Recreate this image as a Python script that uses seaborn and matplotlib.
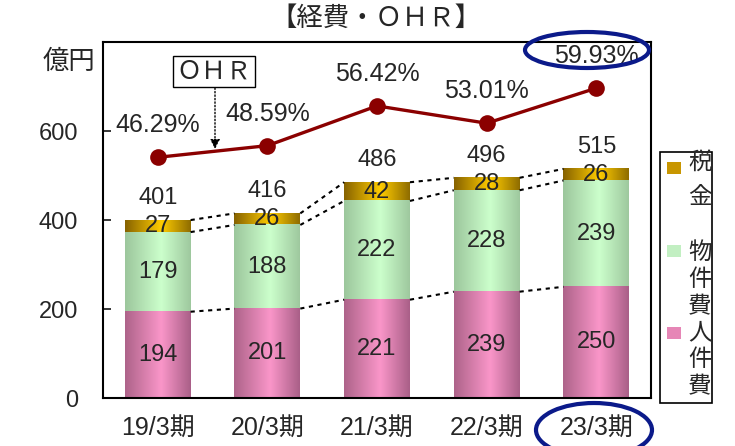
import numpy as np
import matplotlib
matplotlib.use("Agg")
import matplotlib.pyplot as plt
from matplotlib.colors import LinearSegmentedColormap
from matplotlib.patches import Ellipse, Rectangle
import seaborn as sns

# data
categories = ["19/3期", "20/3期", "21/3期", "22/3期", "23/3期"]
personnel = [194, 201, 221, 239, 250]   # 人件費
goods = [179, 188, 222, 228, 239]       # 物件費
tax = [27, 26, 42, 28, 26]              # 税金
totals = [401, 416, 486, 496, 515]
ohr = [46.29, 48.59, 56.42, 53.01, 59.93]

sns.set_style("white")
plt.rcParams["font.family"] = ["Liberation Sans", "Noto Sans CJK JP"]

# stacked tops
lvl1 = np.array(personnel)
lvl2 = lvl1 + np.array(goods)
lvl3 = lvl2 + np.array(tax)

fig = plt.figure(figsize=(7.35, 4.46), dpi=100)
ax = fig.add_axes([0.140, 0.1076, 0.746, 0.798])

# bars drawn largest first (seaborn stacking trick)
sns.barplot(x=categories, y=lvl3, color="#e0b000", width=0.6, errorbar=None, ax=ax)
sns.barplot(x=categories, y=lvl2, color="#c0eec0", width=0.6, errorbar=None, ax=ax)
sns.barplot(x=categories, y=lvl1, color="#e888b8", width=0.6, errorbar=None, ax=ax)

n = len(categories)
tax_bars = ax.patches[:n]
goods_bars = ax.patches[n:2 * n]
pers_bars = ax.patches[2 * n:3 * n]

# horizontal shading like the original
cmaps = [
    LinearSegmentedColormap.from_list("t", [(0, "#866200"), (0.55, "#ffcc00"), (1, "#8e6c00")]),
    LinearSegmentedColormap.from_list("g", [(0, "#9cc69c"), (0.55, "#ccffcc"), (1, "#9ec89e")]),
    LinearSegmentedColormap.from_list("p", [(0, "#ad6389"), (0.55, "#fa96c9"), (1, "#a95f87")]),
]
grad = np.linspace(0, 1, 256).reshape(1, -1)
for k, bars in enumerate([tax_bars, goods_bars, pers_bars]):
    for p in bars:
        x0, w, h = p.get_x(), p.get_width(), p.get_height()
        ax.imshow(grad, cmap=cmaps[k], extent=(x0, x0 + w, 0, h), aspect="auto",
                  zorder=1 + k * 0.1, interpolation="bicubic")
        p.set_visible(False)

# dotted connectors between bars
for i in range(n - 1):
    xr = pers_bars[i].get_x() + pers_bars[i].get_width()
    xl = pers_bars[i + 1].get_x()
    for lv in (lvl1, lvl2, lvl3):
        ax.plot([xr, xl], [lv[i], lv[i + 1]], color="black", lw=1.5,
                ls=(0, (2, 2.2)), zorder=3)

# segment labels
fs = 17
for i in range(n):
    ax.text(i, lvl1[i] / 2, str(personnel[i]), ha="center", va="center", fontsize=fs, zorder=4)
    ax.text(i, lvl1[i] + goods[i] / 2, str(goods[i]), ha="center", va="center", fontsize=fs, zorder=4)
    ax.text(i, lvl2[i] + tax[i] / 2, str(tax[i]), ha="center", va="center", fontsize=fs, zorder=4)
    ax.annotate(str(totals[i]), (i, lvl3[i]), xytext=(0, 16), textcoords="offset points",
                ha="center", va="center", fontsize=fs, zorder=4)

ax.set_xlim(-0.5, n - 0.5)
ax.set_ylim(0, 800)
ax.set_yticks([0, 200, 400, 600])
ax.set_xticks(range(n))
ax.set_xticklabels(categories)
ax.set_xticks(np.arange(0.5, n - 1, 1), minor=True)
ax.tick_params(axis="y", direction="in", length=6, width=1.3, pad=18, labelsize=fs)
ax.tick_params(axis="x", which="major", length=0, pad=13, labelsize=18)
ax.tick_params(axis="x", which="minor", direction="in", length=8, width=1.3)
ax.set_xlabel("")
ax.set_ylabel("")
for s in ax.spines.values():
    s.set_linewidth(1.5)
    s.set_color("black")

# OHR line on hidden secondary axis
ax2 = ax.twinx()
sns.lineplot(x=np.arange(n), y=ohr, ax=ax2, color="#8b0000", lw=2.4, marker="o",
             markersize=12, markeredgewidth=0)
for i, v in enumerate(ohr):
    ax2.annotate(f"{v:.2f}%", (i, v), xytext=(0, 23), textcoords="offset points",
                 ha="center", va="center", fontsize=18)
ax2.set_ylim(-1.15, 69.0)
ax2.set_xlim(-0.5, n - 0.5)
ax2.axis("off")

# title and unit
fig.text(0.512, 0.958, "【経費・ＯＨＲ】", ha="center", va="center", fontsize=19)
fig.text(0.094, 0.861, "億円", ha="center", va="center", fontsize=19)

# OHR tag with dotted arrow
fig.text(0.291, 0.840, "ＯＨＲ", ha="center", va="center", fontsize=18,
         bbox=dict(boxstyle="square,pad=0.15", fc="white", ec="black", lw=1))
ax.annotate("", xy=(215 / 735, 1 - 149 / 446), xytext=(215 / 735, 1 - 88 / 446),
            xycoords="figure fraction", textcoords="figure fraction",
            arrowprops=dict(arrowstyle="-|>", color="black", lw=1, ls=(0, (1, 1.5)),
                            mutation_scale=14, shrinkA=0, shrinkB=0))

# highlight ellipses
blue = "#0b1a8a"
fig.add_artist(Ellipse((587 / 735, 1 - 50 / 446), 124 / 735, 36 / 446, fill=False,
                       ec=blue, lw=3, transform=fig.transFigure))
fig.add_artist(Ellipse((594 / 735, 1 - 430 / 446), 116 / 735, 54 / 446, fill=False,
                       ec=blue, lw=3, transform=fig.transFigure))

# legend (vertical labels)
fig.add_artist(Rectangle((660 / 735, 1 - 403 / 446), 52 / 735, 251 / 446, fill=False,
                         ec="black", lw=1.2, transform=fig.transFigure))
leg_items = [
    ("税金", "#c89600", 168, [163, 198]),
    ("物件費", "#c2efc2", 251, [253, 280, 307]),
    ("人件費", "#e686b6", 333, [333, 360, 387]),
]
for lab, col, ysq, ychars in leg_items:
    fig.add_artist(Rectangle((667 / 735, 1 - (ysq + 6) / 446), 14 / 735, 12 / 446,
                             fc=col, ec="none", transform=fig.transFigure))
    for ch, yc in zip(lab, ychars):
        fig.text(700 / 735, 1 - yc / 446, ch, ha="center", va="center", fontsize=17)

fig.savefig("out.png", dpi=100)
